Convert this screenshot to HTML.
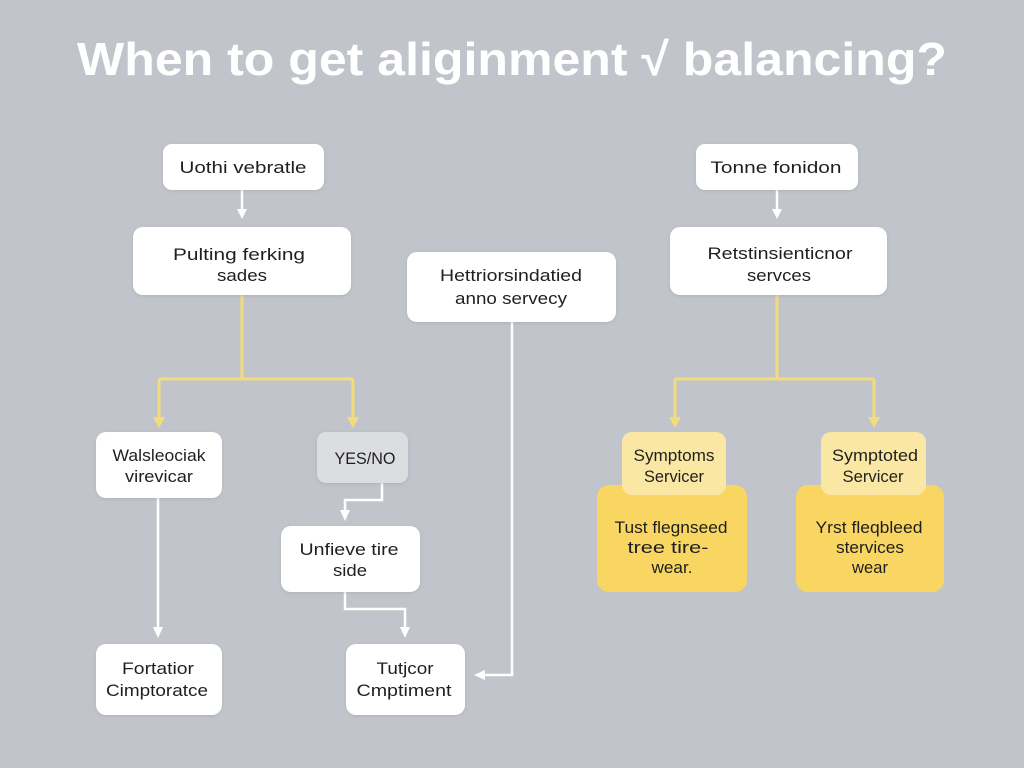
<!DOCTYPE html>
<html>
<head>
<meta charset="utf-8">
<style>
  html, body { margin:0; padding:0; }
  body { width:1024px; height:768px; overflow:hidden; background:#c1c4ca; }
  svg { display:block; }
  text { font-family: "Liberation Sans", "DejaVu Sans", sans-serif; fill:#1f1f1f; font-size:17px; }
  .t { font-weight:bold; fill:#ffffff; font-size:46px; }
</style>
</head>
<body>
<svg width="1024" height="768" viewBox="0 0 1024 768" xmlns="http://www.w3.org/2000/svg">
  <defs>
    <filter id="sh" x="-10%" y="-10%" width="120%" height="130%">
      <feDropShadow dx="0" dy="1" stdDeviation="1.5" flood-color="#8a8d94" flood-opacity="0.35"/>
    </filter>
  </defs>
  <rect width="1024" height="768" fill="#c1c4ca"/>

  <!-- Title -->
  <text class="t" x="512" y="75" text-anchor="middle" textLength="870" lengthAdjust="spacingAndGlyphs">When to get aliginment √ balancing?</text>

  <!-- Yellow connectors -->
  <g stroke="#f2dc7c" stroke-width="3" fill="none">
    <path d="M242 295 V379 M159 379 H353 M159 379 V420 M353 379 V420"/>
    <path d="M777 295 V379 M675 379 H874 M675 379 V420 M874 379 V420"/>
  </g>
  <g fill="#f2dc7c">
    <polygon points="153,417 165,417 159,428"/>
    <polygon points="347,417 359,417 353,428"/>
    <polygon points="669,417 681,417 675,428"/>
    <polygon points="868,417 880,417 874,428"/>
  </g>

  <!-- White connectors -->
  <g stroke="#ffffff" stroke-width="2.5" fill="none">
    <path d="M242 190 V212"/>
    <path d="M777 190 V212"/>
    <path d="M158 498 V630"/>
    <path d="M382 483 V500 H345 V513"/>
    <path d="M345 592 V609 H405 V630"/>
    <path d="M512 322 V675 H482"/>
  </g>
  <g fill="#ffffff">
    <polygon points="237,209 247,209 242,219"/>
    <polygon points="772,209 782,209 777,219"/>
    <polygon points="153,627 163,627 158,638"/>
    <polygon points="340,510 350,510 345,521"/>
    <polygon points="400,627 410,627 405,638"/>
    <polygon points="485,670 485,680 474,675"/>
  </g>

  <!-- White boxes -->
  <g fill="#ffffff" filter="url(#sh)">
    <rect x="163" y="144" width="161" height="46" rx="9"/>
    <rect x="133" y="227" width="218" height="68" rx="10"/>
    <rect x="696" y="144" width="162" height="46" rx="9"/>
    <rect x="670" y="227" width="217" height="68" rx="10"/>
    <rect x="407" y="252" width="209" height="70" rx="10"/>
    <rect x="96" y="432" width="126" height="66" rx="10"/>
    <rect x="281" y="526" width="139" height="66" rx="10"/>
    <rect x="96" y="644" width="126" height="71" rx="10"/>
    <rect x="346" y="644" width="119" height="71" rx="10"/>
  </g>
  <rect x="317" y="432" width="91" height="51" rx="9" fill="#dcdde0" filter="url(#sh)"/>

  <!-- Yellow boxes -->
  <rect x="597" y="485" width="150" height="107" rx="12" fill="#f8d661"/>
  <rect x="622" y="432" width="104" height="63" rx="10" fill="#fbe7a4"/>
  <rect x="796" y="485" width="148" height="107" rx="12" fill="#f8d661"/>
  <rect x="821" y="432" width="105" height="63" rx="10" fill="#fbe7a4"/>

  <!-- Texts -->
  <g text-anchor="middle">
    <text x="243" y="173" textLength="127" lengthAdjust="spacingAndGlyphs">Uothi vebratle</text>
    <text x="239" y="260" textLength="132" lengthAdjust="spacingAndGlyphs">Pulting ferking</text>
    <text x="242" y="281" textLength="50" lengthAdjust="spacingAndGlyphs">sades</text>

    <text x="776" y="173" textLength="131" lengthAdjust="spacingAndGlyphs">Tonne fonidon</text>
    <text x="780" y="259" textLength="145" lengthAdjust="spacingAndGlyphs">Retstinsienticnor</text>
    <text x="779" y="281" textLength="64" lengthAdjust="spacingAndGlyphs">servces</text>

    <text x="511" y="281" textLength="142" lengthAdjust="spacingAndGlyphs">Hettriorsindatied</text>
    <text x="511" y="304" textLength="112" lengthAdjust="spacingAndGlyphs">anno servecy</text>

    <text x="159" y="461" textLength="93" lengthAdjust="spacingAndGlyphs">Walsleociak</text>
    <text x="159" y="482" textLength="68" lengthAdjust="spacingAndGlyphs">virevicar</text>

    <text x="365" y="464" textLength="61" lengthAdjust="spacingAndGlyphs">YES/NO</text>

    <text x="349" y="555" textLength="99" lengthAdjust="spacingAndGlyphs">Unfieve tire</text>
    <text x="350" y="576" textLength="34" lengthAdjust="spacingAndGlyphs">side</text>

    <text x="158" y="674" textLength="72" lengthAdjust="spacingAndGlyphs">Fortatior</text>
    <text x="157" y="696" textLength="102" lengthAdjust="spacingAndGlyphs">Cimptoratce</text>

    <text x="405" y="674" textLength="57" lengthAdjust="spacingAndGlyphs">Tutjcor</text>
    <text x="404" y="696" textLength="95" lengthAdjust="spacingAndGlyphs">Cmptiment</text>

    <text x="674" y="461" textLength="81" lengthAdjust="spacingAndGlyphs">Symptoms</text>
    <text x="674" y="482" textLength="60" lengthAdjust="spacingAndGlyphs">Servicer</text>
    <text x="671" y="533" textLength="113" lengthAdjust="spacingAndGlyphs">Tust flegnseed</text>
    <text x="668" y="553" textLength="81" lengthAdjust="spacingAndGlyphs">tree tire-</text>
    <text x="672" y="573" textLength="41" lengthAdjust="spacingAndGlyphs">wear.</text>

    <text x="875" y="461" textLength="86" lengthAdjust="spacingAndGlyphs">Symptoted</text>
    <text x="873" y="482" textLength="61" lengthAdjust="spacingAndGlyphs">Servicer</text>
    <text x="869" y="533" textLength="107" lengthAdjust="spacingAndGlyphs">Yrst fleqbleed</text>
    <text x="870" y="553" textLength="68" lengthAdjust="spacingAndGlyphs">stervices</text>
    <text x="870" y="573" textLength="36" lengthAdjust="spacingAndGlyphs">wear</text>
  </g>
</svg>
</body>
</html>
